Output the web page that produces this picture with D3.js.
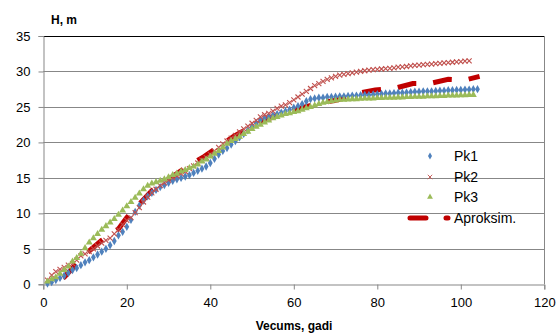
<!DOCTYPE html>
<html>
<head>
<meta charset="utf-8">
<script src="https://cdn.jsdelivr.net/npm/d3@7"></script>
<style>
  body { margin: 0; background: #fff; }
  svg { display: block; font-family: "Liberation Sans", Arial, sans-serif; }
</style>
</head>
<body>
<div id="chart"></div>
<script>
// ages (years) for each series
const agesPk1 = d3.range(1, 105);
const agesPk2 = d3.range(1, 103);
const agesPk3 = d3.range(1, 104);

const heightPk1 = [0.1, 0.3, 0.6, 0.9, 1.2, 1.6, 2.0, 2.3, 2.7, 3.1, 3.4, 3.8, 4.2, 4.6, 5.0, 5.5, 6.1, 6.9, 7.4, 8.1,
  9.1, 10.2, 11.1, 11.8, 12.4, 12.9, 13.3, 13.7, 14.0, 14.3, 14.6, 14.8, 15.0, 15.2, 15.4, 15.7, 16.0, 16.3, 16.6, 17.1,
  17.7, 18.3, 18.8, 19.2, 19.7, 20.2, 20.7, 21.2, 21.7, 22.2, 22.7, 23.2, 23.4, 23.6, 23.8, 24.0, 24.2, 24.4, 24.6, 24.9,
  25.1, 25.4, 25.8, 26.1, 26.2, 26.3, 26.3, 26.4, 26.4, 26.45, 26.5, 26.5, 26.55, 26.6, 26.6, 26.65, 26.7, 26.7, 26.75, 26.8,
  26.85, 26.9, 26.9, 26.95, 27.0, 27.0, 27.05, 27.1, 27.15, 27.15, 27.2, 27.2, 27.2, 27.25, 27.3, 27.3, 27.35, 27.35, 27.4, 27.4,
  27.45, 27.45, 27.5, 27.5];

const heightPk2 = [0.6, 1.3, 1.8, 2.1, 2.4, 2.7, 2.9, 3.4, 4.0, 4.3, 4.6, 5.0, 5.4, 5.8, 6.2, 6.5, 7.1, 7.7, 8.4, 9.0,
  9.4, 10.1, 10.8, 11.6, 12.3, 12.9, 13.4, 13.9, 14.3, 14.7, 15.0, 15.3, 15.6, 15.9, 16.3, 16.7, 17.1, 17.5, 17.9, 18.3,
  18.8, 19.3, 19.8, 20.2, 20.6, 21.0, 21.5, 21.9, 22.3, 22.7, 23.1, 23.6, 23.9, 24.1, 24.4, 24.8, 25.1, 25.3, 25.6, 26.0,
  26.4, 26.8, 27.2, 27.6, 28.0, 28.3, 28.6, 28.9, 29.1, 29.3, 29.5, 29.6, 29.7, 29.8, 29.9, 30.0, 30.1, 30.2, 30.25, 30.3,
  30.35, 30.4, 30.45, 30.5, 30.6, 30.65, 30.7, 30.8, 30.85, 30.9, 30.95, 31.0, 31.05, 31.1, 31.15, 31.2, 31.25, 31.3, 31.35, 31.4,
  31.45, 31.5];

const heightPk3 = [0.4, 0.7, 1.0, 1.5, 2.0, 2.5, 3.2, 3.7, 4.3, 5.1, 5.9, 6.5, 7.1, 7.7, 8.2, 8.7, 9.2, 9.8, 10.4, 11.0,
  11.6, 12.2, 12.8, 13.4, 13.9, 14.2, 14.4, 14.6, 14.8, 15.1, 15.4, 15.6, 15.9, 16.1, 16.4, 16.6, 16.9, 17.3, 17.6, 18.0,
  18.4, 18.8, 19.3, 19.8, 20.2, 20.5, 20.8, 21.2, 21.5, 21.9, 22.2, 22.5, 22.8, 23.1, 23.4, 23.6, 23.8, 24.0, 24.1, 24.3,
  24.4, 24.6, 24.8, 25.0, 25.2, 25.4, 25.6, 25.7, 25.8, 25.9, 26.0, 26.0, 26.05, 26.1, 26.1, 26.15, 26.2, 26.2, 26.2, 26.25,
  26.25, 26.3, 26.3, 26.3, 26.35, 26.35, 26.4, 26.4, 26.45, 26.45, 26.45, 26.5, 26.5, 26.5, 26.55, 26.55, 26.6, 26.6, 26.6, 26.65,
  26.65, 26.7, 26.7];

// approximation curve
const agesApprox = [1, 3, 5, 8, 10, 14, 16, 18, 20, 23, 26, 30, 35, 38.5, 42, 45.5, 50, 55, 60, 66, 70.5, 75, 79.5, 84, 88.5, 92.5, 97, 101, 104.5];
const heightApprox = [0.0, 0.3, 1.0, 2.9, 4.2, 6.2, 7.0, 7.8, 9.4, 11.3, 13.2, 14.8, 16.8, 18.0, 19.4, 20.8, 22.3, 23.6, 24.6, 25.5, 26.0, 26.9, 27.4, 27.6, 28.3, 28.3, 28.9, 28.8, 29.3];

const xTicks = [0, 20, 40, 60, 80, 100, 120];
const yTicks = [0, 5, 10, 15, 20, 25, 30, 35];
const seriesNames = ["Pk1", "Pk2", "Pk3", "Aproksim."];

const width = 558, height = 336;
const plot = {left: 43.3, right: 544.3, top: 36, bottom: 284.3};

const colors = {pk1: "#4F81BD", pk2: "#C0504D", pk3: "#9BBB59", approx: "#C00000"};

const svg = d3.select("#chart").append("svg")
    .attr("width", width)
    .attr("height", height);

const x = d3.scaleLinear().domain([0, 120]).range([plot.left, plot.right]);
const y = d3.scaleLinear().domain([0, 35]).range([plot.bottom, plot.top]);

// gridlines
svg.append("g")
    .selectAll("line")
    .data(yTicks.slice(1, -1))
    .join("line")
    .attr("x1", plot.left).attr("x2", plot.right)
    .attr("y1", d => Math.round(y(d)) + 0.5).attr("y2", d => Math.round(y(d)) + 0.5)
    .attr("stroke", "#878787");

// top border and right border
svg.append("line")
    .attr("x1", plot.left).attr("x2", plot.right + 0.5)
    .attr("y1", Math.round(y(35)) + 0.5).attr("y2", Math.round(y(35)) + 0.5)
    .attr("stroke", "#000");
svg.append("line")
    .attr("x1", Math.round(plot.right) + 0.5).attr("x2", Math.round(plot.right) + 0.5)
    .attr("y1", plot.top).attr("y2", plot.bottom)
    .attr("stroke", "#878787");

// axes
const xAxis = d3.axisBottom(x).tickValues(xTicks).tickSize(5).tickPadding(8);
const yAxis = d3.axisLeft(y).tickValues(yTicks).tickSize(5).tickPadding(8);

const gx = svg.append("g")
    .attr("transform", `translate(0,${Math.round(plot.bottom) + 0.5})`)
    .call(xAxis);
const gy = svg.append("g")
    .attr("transform", `translate(${Math.round(plot.left) + 0.5},0)`)
    .call(yAxis);

[gx, gy].forEach(g => {
    g.select(".domain").attr("stroke", "#878787");
    g.selectAll(".tick line").attr("stroke", "#878787");
    g.selectAll(".tick text")
        .attr("fill", "#000")
        .style("font-size", "13px")
        .style("font-family", "Liberation Sans, Arial, sans-serif");
});

// approximation line
const line = d3.line().x(d => x(d[0])).y(d => y(d[1]));
svg.append("path")
    .datum(d3.zip(agesApprox, heightApprox))
    .attr("d", line)
    .attr("fill", "none")
    .attr("stroke", colors.approx)
    .attr("stroke-width", 5)
    .attr("stroke-linecap", "butt")
    .attr("stroke-dasharray", "19 17")
    .attr("stroke-dashoffset", 19);

const diamond = d3.symbol().type(d3.symbolDiamond).size(20);
const triangle = d3.symbol().type(d3.symbolTriangle).size(21);

// Pk1 diamonds
svg.append("g")
    .selectAll("path")
    .data(d3.zip(agesPk1, heightPk1))
    .join("path")
    .attr("d", diamond)
    .attr("transform", d => `translate(${x(d[0])},${y(d[1])})`)
    .attr("fill", colors.pk1);

// Pk2 crosses
svg.append("g")
    .selectAll("path")
    .data(d3.zip(agesPk2, heightPk2))
    .join("path")
    .attr("d", "M-2.5,-2.5L2.5,2.5M-2.5,2.5L2.5,-2.5")
    .attr("transform", d => `translate(${x(d[0])},${y(d[1])})`)
    .attr("stroke", colors.pk2)
    .attr("stroke-width", 1.1)
    .attr("fill", "none");

// Pk3 triangles
svg.append("g")
    .selectAll("path")
    .data(d3.zip(agesPk3, heightPk3))
    .join("path")
    .attr("d", triangle)
    .attr("transform", d => `translate(${x(d[0])},${y(d[1])})`)
    .attr("fill", colors.pk3);

// axis titles
svg.append("text")
    .attr("x", 51).attr("y", 24)
    .style("font-size", "12px").style("font-weight", "bold")
    .text("H, m");
svg.append("text")
    .attr("x", 294).attr("y", 330)
    .attr("text-anchor", "middle")
    .style("font-size", "12px").style("font-weight", "bold")
    .text("Vecums, gadi");

// legend
const legend = svg.append("g");
const rowY = [156, 177, 197, 218];
const smallDiamond = d3.symbol().type(d3.symbolDiamond).size(14);
const smallTriangle = d3.symbol().type(d3.symbolTriangle).size(15);
seriesNames.forEach((name, i) => {
    const cy = rowY[i];
    if (i === 0) {
        legend.append("path").attr("d", smallDiamond).attr("transform", `translate(430,${cy})`).attr("fill", colors.pk1);
    } else if (i === 1) {
        legend.append("path").attr("d", "M-2.2,-2.2L2.2,2.2M-2.2,2.2L2.2,-2.2")
            .attr("transform", `translate(430,${cy})`)
            .attr("stroke", colors.pk2).attr("stroke-width", 0.9).attr("fill", "none");
    } else if (i === 2) {
        legend.append("path").attr("d", smallTriangle).attr("transform", `translate(430,${cy})`).attr("fill", colors.pk3);
    } else {
        legend.append("line")
            .attr("x1", 410).attr("x2", 448).attr("y1", cy).attr("y2", cy)
            .attr("stroke", colors.approx).attr("stroke-width", 5)
            .attr("stroke-linecap", "round").attr("stroke-dasharray", "16 20");
    }
    legend.append("text")
        .attr("x", 454).attr("y", cy + 5)
        .style("font-size", "14px")
        .attr("fill", "#000")
        .text(name);
});
</script>
</body>
</html>
